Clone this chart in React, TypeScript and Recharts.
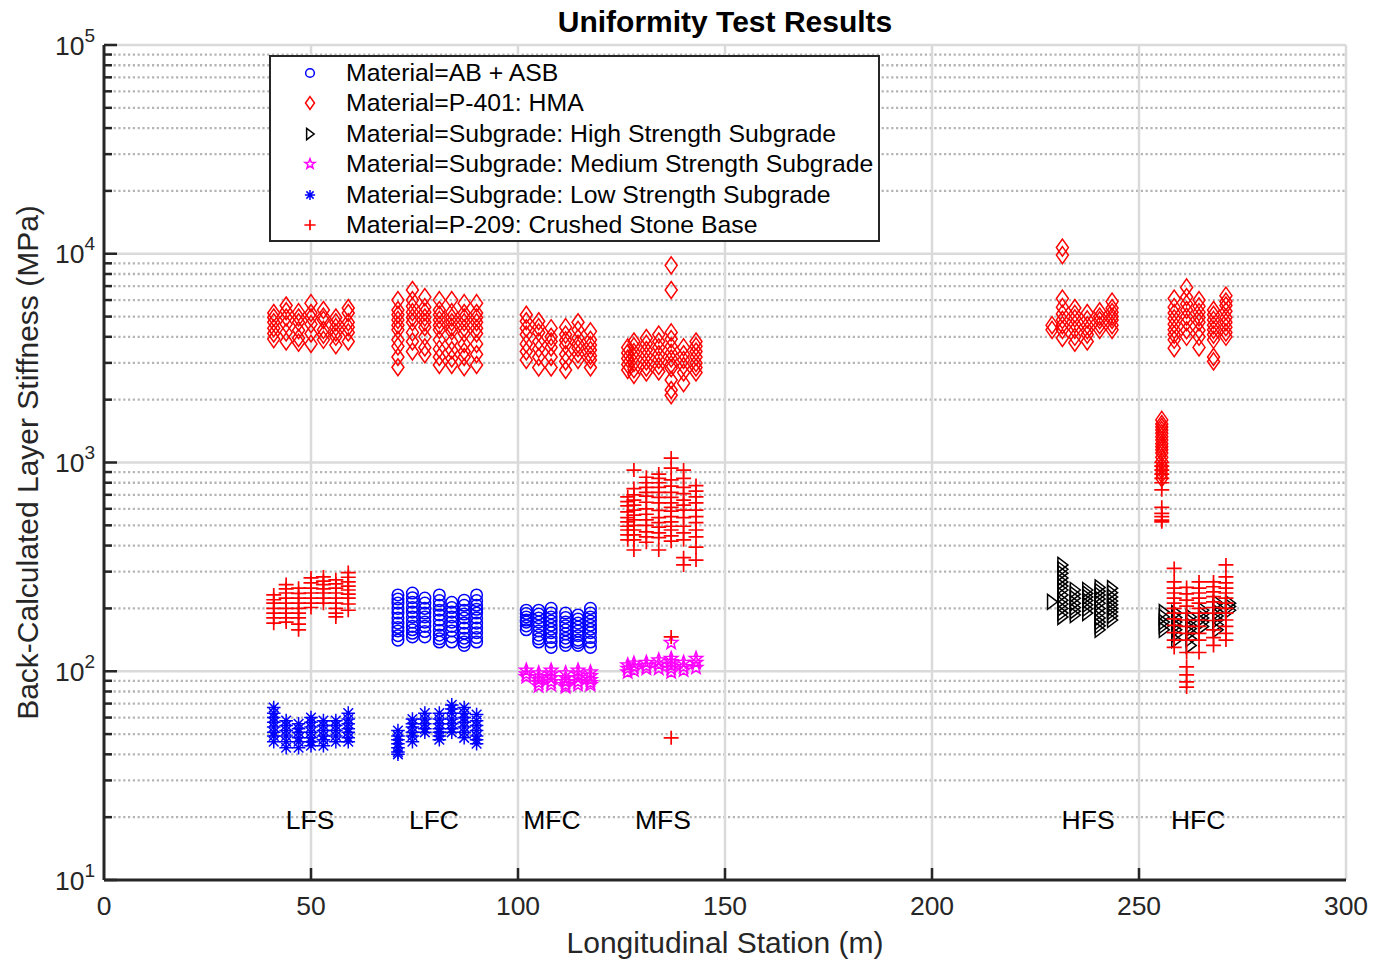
import React from 'react';
import { ScatterChart, Scatter, XAxis, YAxis, ReferenceLine } from 'recharts';

const FONT = '"Liberation Sans", Arial, Helvetica, sans-serif';
const INK = '#262626';

// test section stations (m)
const lfsStations = [41, 44, 47, 50, 53, 56, 59];
const lfcStations = [71, 74.5, 77.5, 81, 84, 87, 90];
const mfcStations = [102, 105, 108, 111.5, 114.5, 117.5];
const mfsStations = [126.5, 128, 131, 134, 137, 140, 143];
const hfsStations = [229, 231.5, 234.5, 237.5, 240.5, 243.5];
const hfcStations = [258.5, 261.5, 264.5, 268, 271];
const hfcSubgradeStations = [256, 259, 262.5, 265.5, 269, 272];
const hfcEdgeStations = [255.5];

// P-401 HMA stiffness (MPa), one list per station
const hmaLFS = [
  [5200, 4950, 4700, 4400, 4150, 3900],
  [5650, 5300, 4950, 4600, 4200, 3800],
  [5250, 4950, 4700, 4300, 3950, 3750],
  [5800, 5200, 4950, 4600, 4150, 3700],
  [5380, 5000, 4820, 4320, 4100, 3870],
  [4950, 4700, 4450, 4200, 4000, 3650],
  [5500, 5200, 4700, 4450, 4200, 3800],
];
const hmaLFC = [
  [6000, 5380, 5100, 4820, 4550, 4320, 3870, 3600, 3200, 2860],
  [6700, 6000, 5600, 5250, 4950, 4700, 4200, 3800, 3400],
  [6200, 5550, 5250, 4950, 4700, 4450, 4000, 3560, 3300],
  [6000, 5380, 5100, 4820, 4550, 4320, 3870, 3500, 3200, 2930],
  [6000, 5250, 4950, 4700, 4450, 4250, 3800, 3450, 3150, 2930],
  [5800, 5200, 4950, 4700, 4400, 4150, 3700, 3400, 3200, 2860],
  [5800, 5200, 4950, 4700, 4400, 4150, 3700, 3300, 2930],
];
const hmaMFC = [
  [5100, 4750, 4400, 4100, 3700, 3400, 3100],
  [4750, 4450, 4200, 3800, 3500, 3200, 2850],
  [4400, 4000, 3800, 3560, 3200, 2850],
  [4450, 4100, 3850, 3650, 3300, 3050, 2775],
  [4700, 4320, 3950, 3700, 3530, 3300, 3100],
  [4250, 3870, 3650, 3460, 3250, 3100, 2850],
];
const hmaMFS = [
  [3560, 3350, 3150, 2950, 2775],
  [3800, 3600, 3380, 3200, 3000, 2800, 2630],
  [3950, 3700, 3460, 3250, 3050, 2850, 2700],
  [4100, 3800, 3560, 3300, 3100, 2900, 2730],
  [8800, 6700, 4200, 3900, 3600, 3350, 3150, 2950, 2830, 2485, 2225, 2100],
  [3560, 3300, 3100, 2900, 2700, 2400],
  [3800, 3600, 3400, 3200, 3000, 2850, 2700],
];
const hmaHFS = [
  [4550, 4320],
  [10700, 9850, 6100, 5550, 5150, 4820, 4550, 4320, 3950],
  [5500, 5150, 4900, 4600, 4320, 4000, 3750],
  [5200, 4850, 4550, 4300, 4100, 3800],
  [5300, 5000, 4800, 4550, 4320],
  [5900, 5500, 5250, 5000, 4820, 4550, 4320],
];
const hmaHFC = [
  [6100, 5550, 5200, 4900, 4600, 4320, 4100, 3870, 3530],
  [6900, 6200, 5750, 5380, 5000, 4700, 4300, 4000],
  [6000, 5600, 5250, 4950, 4700, 4300, 4000, 3560],
  [5380, 5100, 4820, 4550, 4320, 4100, 3870, 3200, 3050],
  [6300, 5900, 5650, 5300, 4950, 4700, 4450, 4200, 4000],
];
const hmaHFCEdge = [[1600, 1530, 1480, 1430, 1380, 1330, 1280, 1230, 1190, 1150, 1110, 1060, 1010, 960, 920, 880, 840]];

// P-209 crushed stone base
const csbLFS = [
  [232, 220, 212, 200, 190, 180, 170],
  [260, 248, 237, 224, 212, 200, 190, 180, 172],
  [250, 236, 224, 212, 200, 190, 180, 168, 158],
  [280, 265, 250, 237, 224, 212, 202],
  [283, 270, 260, 248, 237, 224, 212],
  [274, 262, 250, 237, 224, 212, 200, 190, 182],
  [297, 282, 268, 256, 245, 234, 224, 210, 196],
];
const csbMFS = [
  [685, 650, 620, 580, 545, 520, 495, 475, 450, 426],
  [920, 750, 700, 661, 625, 592, 560, 531, 500, 475, 450, 426, 381],
  [850, 800, 760, 720, 690, 645, 600, 565, 531, 500, 465, 440, 415],
  [880, 840, 800, 760, 720, 680, 640, 590, 545, 515, 490, 460, 437, 381],
  [1050, 940, 825, 770, 720, 680, 640, 610, 585, 550, 520, 495, 475, 445, 420, 146, 48],
  [920, 840, 760, 710, 661, 625, 592, 545, 495, 460, 426, 350, 323],
  [775, 730, 685, 640, 592, 550, 515, 475, 440, 393, 341],
];
const csbHFCEdge = [[1000, 960, 920, 880, 840, 800, 740, 610, 570, 550, 530, 520]];
const csbHFC = [
  [311, 268, 250, 237, 224, 212, 200, 190, 178, 166, 153, 141, 130],
  [252, 235, 219, 205, 190, 176, 164, 152, 141, 123, 105, 96, 89, 84],
  [268, 250, 237, 224, 212, 200, 190, 176, 164, 152, 141, 123],
  [268, 254, 240, 228, 215, 202, 190, 175, 158, 145, 133],
  [323, 283, 265, 250, 237, 224, 212, 200, 190, 176, 164, 152, 141],
];

// AB + ASB
const abLFC = [
  [232, 222, 212, 200, 190, 180, 170, 162, 156, 148, 141],
  [237, 225, 214, 202, 192, 182, 172, 164, 158, 152, 146],
  [224, 212, 200, 190, 182, 172, 164, 155, 146],
  [232, 218, 207, 196, 186, 176, 166, 157, 149, 143, 138],
  [214, 202, 192, 182, 172, 164, 156, 146, 138],
  [219, 207, 196, 188, 180, 170, 161, 152, 144, 138, 133],
  [232, 218, 207, 198, 190, 180, 170, 161, 153, 145, 138],
];
const abMFC = [
  [196, 189, 182, 176, 172, 165, 158],
  [196, 188, 180, 172, 164, 156, 149, 143, 138],
  [200, 190, 182, 174, 166, 159, 153, 145, 138, 130],
  [190, 181, 172, 165, 158, 151, 144, 138, 133],
  [186, 178, 170, 163, 156, 148, 141, 137, 133],
  [200, 190, 182, 174, 166, 159, 153, 145, 138, 130],
];

// subgrades
const highSgHFS = [
  [215],
  [323, 308, 295, 280, 268, 256, 245, 232, 219, 210, 200, 190, 182],
  [245, 234, 224, 212, 202, 194, 186],
  [245, 236, 227, 218, 208, 199, 190],
  [252, 242, 232, 222, 212, 200, 190, 180, 172, 165, 158],
  [250, 238, 227, 217, 208, 200, 192, 184, 176],
];
const highSgHFC = [
  [192, 182, 172, 165, 158],
  [190, 181, 172, 165, 158, 150, 141],
  [182, 174, 166, 160, 153, 143, 133],
  [196, 188, 180, 172, 164],
  [212, 202, 192, 184, 176, 167, 158],
  [212, 204, 196],
];
const medSgMFC = [
  [101, 97, 94],
  [98, 94, 91, 88, 85],
  [101, 97, 93, 89, 86],
  [98, 93, 89, 86, 84],
  [101, 97, 93, 89, 86],
  [99, 95, 91, 88, 86],
];
const medSgMFS = [
  [107, 103, 99],
  [109, 105, 101],
  [110, 106, 103],
  [113, 108, 103],
  [137, 115, 111, 107, 103, 99],
  [110, 105, 101],
  [115, 110, 104],
];
const lowSgLFS = [
  [67, 63, 60, 57, 54, 51, 49, 46],
  [58, 55, 52, 49, 46, 43],
  [56, 53, 51, 48, 46, 43],
  [60, 57, 54, 51, 48, 46, 44],
  [58, 55, 52, 49, 47, 44],
  [58, 55, 52, 49, 46],
  [63, 59, 56, 53, 51, 48, 46],
];
const lowSgLFC = [
  [52, 49, 47, 45, 43, 41, 40],
  [59, 56, 54, 51, 49, 46],
  [63, 59, 56, 53, 51],
  [63, 59, 56, 53, 51, 49, 47],
  [69, 66, 63, 59, 56, 53, 51],
  [67, 63, 60, 57, 54, 51, 48],
  [62, 58, 55, 52, 49, 47, 45],
];

// section names written along the bottom of the plot
const sectionNames = ['LFS', 'LFC', 'MFC', 'MFS', 'HFS', 'HFC'];
const sectionNameStations = [49.8, 79.7, 108.2, 135, 237.7, 264.3];
const sectionNameLevel = 19.4;

const xTicks = [0, 50, 100, 150, 200, 250, 300];
const xGrid = [50, 100, 150, 200, 250, 300];
const decades = [10, 100, 1000, 10000, 100000];
const minorSteps = [2, 3, 4, 5, 6, 7, 8, 9];

type Pt = { x: number; y: number };
const toPoints = (stations: number[], values: number[][]): Pt[] =>
  stations.flatMap((x, i) => values[i].map((y) => ({ x, y })));

type Kind = 'circle' | 'diamond' | 'triangle' | 'star' | 'asterisk' | 'plus';

const Marker = ({ kind, cx, cy, color, s = 1 }: { kind: Kind; cx: number; cy: number; color: string; s?: number }) => {
  const common = { fill: 'none', stroke: color, strokeWidth: 1.5 };
  switch (kind) {
    case 'circle':
      return <circle cx={cx} cy={cy} r={5.8 * s} {...common} />;
    case 'diamond':
      return (
        <path
          d={`M${cx},${cy - 8.5 * s}L${cx + 6 * s},${cy}L${cx},${cy + 8.5 * s}L${cx - 6 * s},${cy}Z`}
          {...common}
        />
      );
    case 'triangle':
      return (
        <path
          d={`M${cx - 4.5 * s},${cy - 7.5 * s}L${cx + 5.5 * s},${cy}L${cx - 4.5 * s},${cy + 7.5 * s}Z`}
          {...common}
        />
      );
    case 'star': {
      const pts: string[] = [];
      for (let k = 0; k < 10; k++) {
        const r = (k % 2 === 0 ? 7 : 2.9) * s;
        const a = -Math.PI / 2 + (k * Math.PI) / 5;
        pts.push(`${cx + r * Math.cos(a)},${cy + r * Math.sin(a)}`);
      }
      return <polygon points={pts.join(' ')} {...common} />;
    }
    case 'asterisk': {
      const r = 6.8 * s;
      const d = r * 0.707;
      return (
        <path
          d={`M${cx - r},${cy}H${cx + r}M${cx},${cy - r}V${cy + r}M${cx - d},${cy - d}L${cx + d},${cy + d}M${cx - d},${cy + d}L${cx + d},${cy - d}`}
          {...common}
        />
      );
    }
    default:
      return (
        <path
          d={`M${cx - 7.5 * s},${cy}H${cx + 7.5 * s}M${cx},${cy - 7 * s}V${cy + 7 * s}`}
          {...common}
          strokeWidth={1.7}
        />
      );
  }
};

const series: { name: string; kind: Kind; color: string; data: Pt[] }[] = [
  {
    name: 'Material=AB + ASB',
    kind: 'circle',
    color: '#0000ff',
    data: [...toPoints(lfcStations, abLFC), ...toPoints(mfcStations, abMFC)],
  },
  {
    name: 'Material=P-401: HMA',
    kind: 'diamond',
    color: '#ff0000',
    data: [
      ...toPoints(lfsStations, hmaLFS),
      ...toPoints(lfcStations, hmaLFC),
      ...toPoints(mfcStations, hmaMFC),
      ...toPoints(mfsStations, hmaMFS),
      ...toPoints(hfsStations, hmaHFS),
      ...toPoints(hfcEdgeStations, hmaHFCEdge),
      ...toPoints(hfcStations, hmaHFC),
    ],
  },
  {
    name: 'Material=Subgrade: High Strength Subgrade',
    kind: 'triangle',
    color: '#000000',
    data: [...toPoints(hfsStations, highSgHFS), ...toPoints(hfcSubgradeStations, highSgHFC)],
  },
  {
    name: 'Material=Subgrade: Medium Strength Subgrade',
    kind: 'star',
    color: '#ff00ff',
    data: [...toPoints(mfcStations, medSgMFC), ...toPoints(mfsStations, medSgMFS)],
  },
  {
    name: 'Material=Subgrade: Low Strength Subgrade',
    kind: 'asterisk',
    color: '#0000ff',
    data: [...toPoints(lfsStations, lowSgLFS), ...toPoints(lfcStations, lowSgLFC)],
  },
  {
    name: 'Material=P-209: Crushed Stone Base',
    kind: 'plus',
    color: '#ff0000',
    data: [
      ...toPoints(lfsStations, csbLFS),
      ...toPoints(mfsStations, csbMFS),
      ...toPoints(hfcEdgeStations, csbHFCEdge),
      ...toPoints(hfcStations, csbHFC),
    ],
  },
];

const sectionData = sectionNames.map((name, i) => ({ x: sectionNameStations[i], y: sectionNameLevel, name }));

const yTicks = decades.flatMap((d, i) => (i < decades.length - 1 ? [d, ...minorSteps.map((m) => d * m)] : [d]));
const yMinor = yTicks.filter((v) => !decades.includes(v));

const YTick = (props: any) => {
  const { x, y, payload } = props;
  const v = payload.value as number;
  const major = decades.includes(v);
  return (
    <g>
      <line x1={x} x2={x + (major ? 13 : 8)} y1={y} y2={y} stroke={INK} strokeWidth={2.5} />
      {major && (
        <text x={x - 9} y={y + 9.5} textAnchor="end" fill={INK} fontFamily={FONT} fontSize={26.5}>
          10
          <tspan dy={-13} fontSize={19}>
            {Math.round(Math.log10(v))}
          </tspan>
        </text>
      )}
    </g>
  );
};

const XTick = (props: any) => {
  const { x, y, payload } = props;
  return (
    <g>
      {payload.value > 0 && payload.value < 300 && (
        <line x1={x} x2={x} y1={y} y2={y - 12} stroke={INK} strokeWidth={2.5} />
      )}
      <text x={x} y={y + 35} textAnchor="middle" fill={INK} fontFamily={FONT} fontSize={26.5}>
        {payload.value}
      </text>
    </g>
  );
};

export default function App() {
  return (
    <div style={{ position: 'absolute', left: 0, top: 0, width: 1381, height: 960, background: '#fff' }}>
      <div
        style={{
          position: 'absolute',
          left: 104,
          width: 1242,
          top: 0,
          height: 44,
          lineHeight: '44px',
          textAlign: 'center',
          fontFamily: FONT,
          fontWeight: 'bold',
          fontSize: 30,
          color: '#000',
        }}
      >
        Uniformity Test Results
      </div>
      <ScatterChart width={1381} height={960} margin={{ top: 45, right: 35, bottom: 40, left: 44 }}>
        <XAxis
          type="number"
          dataKey="x"
          domain={[0, 300]}
          ticks={xTicks}
          interval={0}
          height={40}
          tickSize={0}
          tickMargin={0}
          tickLine={false}
          tick={<XTick />}
          axisLine={{ stroke: INK, strokeWidth: 3 }}
          label={{
            content: ({ viewBox }: any) => (
              <text
                x={viewBox.x + viewBox.width / 2}
                y={viewBox.y + 73}
                textAnchor="middle"
                fill={INK}
                fontFamily={FONT}
                fontSize={30}
              >
                Longitudinal Station (m)
              </text>
            ),
          }}
        />
        <YAxis
          type="number"
          dataKey="y"
          scale="log"
          domain={[10, 100000]}
          allowDataOverflow
          ticks={yTicks}
          interval={0}
          width={60}
          tickSize={0}
          tickMargin={0}
          tickLine={false}
          tick={<YTick />}
          axisLine={{ stroke: INK, strokeWidth: 3 }}
          label={{
            content: ({ viewBox }: any) => {
              const cx = viewBox.x - 6;
              const cy = viewBox.y + viewBox.height / 2;
              return (
                <text
                  x={cx}
                  y={cy}
                  transform={`rotate(-90 ${cx} ${cy})`}
                  textAnchor="middle"
                  fill={INK}
                  fontFamily={FONT}
                  fontSize={30}
                >
                  Back-Calculated Layer Stiffness (MPa)
                </text>
              );
            },
          }}
        />
        {yMinor.map((v) => (
          <ReferenceLine key={`m${v}`} y={v} stroke="#b4b4b4" strokeWidth={2.3} strokeDasharray="2.2 2.6" />
        ))}
        {decades.slice(1).map((v) => (
          <ReferenceLine key={`d${v}`} y={v} stroke="#dadada" strokeWidth={2.5} />
        ))}
        {xGrid.map((v) => (
          <ReferenceLine key={`x${v}`} x={v} stroke="#dadada" strokeWidth={2.5} />
        ))}
        {series.map((s) => (
          <Scatter
            key={s.name}
            name={s.name}
            data={s.data}
            isAnimationActive={false}
            shape={(p: any) => <Marker kind={s.kind} cx={p.cx} cy={p.cy} color={s.color} />}
          />
        ))}
        <Scatter
          data={sectionData}
          isAnimationActive={false}
          legendType="none"
          shape={(p: any) => (
            <text x={p.cx} y={p.cy + 9.5} textAnchor="middle" fill="#000" fontFamily={FONT} fontSize={26.5}>
              {p.payload.name}
            </text>
          )}
        />
      </ScatterChart>
      <div
        style={{
          position: 'absolute',
          left: 269,
          top: 55,
          width: 607,
          height: 183,
          border: `2px solid ${INK}`,
          background: '#fff',
          fontFamily: FONT,
          fontSize: 24.8,
          color: '#000',
        }}
      >
        {series.map((s, i) => (
          <div
            key={s.name}
            style={{ position: 'absolute', left: 0, top: 1 + 30.4 * i, height: 30, width: '100%' }}
          >
            <svg width={20} height={30} style={{ position: 'absolute', left: 29, top: 0 }}>
              <Marker kind={s.kind} cx={10} cy={15} color={s.color} s={0.75} />
            </svg>
            <span style={{ position: 'absolute', left: 75, top: 0, lineHeight: '30px', whiteSpace: 'nowrap' }}>
              {s.name}
            </span>
          </div>
        ))}
      </div>
    </div>
  );
}
